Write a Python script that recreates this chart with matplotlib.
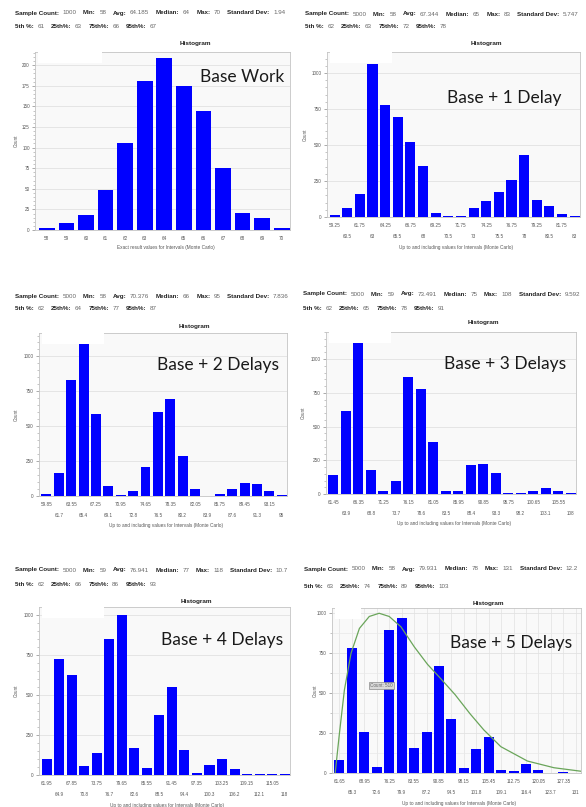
import matplotlib
matplotlib.use("Agg")
import matplotlib.pyplot as plt
from matplotlib.ticker import MultipleLocator, AutoMinorLocator
from matplotlib.patches import Rectangle
from matplotlib.transforms import Bbox

W, H, DPI = 586, 807, 100

# ---------------- data ----------------
base_bins = [58, 59, 60, 61, 62, 63, 64, 65, 66, 67, 68, 69, 70]
base_counts = [2, 9, 18, 48, 106, 181, 209, 175, 145, 75, 21, 14, 2]

d1_bins = [59.25, 60.5, 61.75, 63, 64.25, 65.5, 66.75, 68, 69.25, 70.5,
           71.75, 73, 74.25, 75.5, 76.75, 78, 79.25, 80.5, 81.75, 83]
d1_counts = [16, 62, 162, 1062, 780, 694, 518, 352, 28, 9,
             4, 65, 109, 171, 255, 428, 120, 74, 18, 9]

d2_bins = [59.85, 61.7, 63.55, 65.4, 67.25, 69.1, 70.95, 72.8, 74.65, 76.5,
           78.35, 80.2, 82.05, 83.9, 85.75, 87.6, 89.45, 91.3, 93.15, 95]
d2_counts = [14, 168, 832, 1094, 585, 72, 10, 34, 209, 604,
             695, 285, 50, 2, 12, 50, 91, 84, 36, 10]

d3_bins = [61.45, 63.9, 66.35, 68.8, 71.25, 73.7, 76.15, 78.6, 81.05, 83.5,
           85.95, 88.4, 90.85, 93.3, 95.75, 98.2, 100.65, 103.1, 105.55, 108]
d3_counts = [138, 618, 1128, 180, 20, 99, 865, 778, 389, 20,
             20, 217, 222, 155, 5, 5, 25, 44, 25, 10]

d4_bins = [61.95, 64.9, 67.85, 70.8, 73.75, 76.7, 79.65, 82.6, 85.55, 88.5,
           91.45, 94.4, 97.35, 100.3, 103.25, 106.2, 109.15, 112.1, 115.05, 118]
d4_counts = [101, 723, 625, 57, 136, 849, 1000, 168, 46, 377,
             549, 155, 15, 61, 99, 36, 6, 6, 6, 8]

d5_bins = [61.65, 65.3, 68.95, 72.6, 76.25, 79.9, 83.55, 87.2, 90.85, 94.5,
           98.15, 101.8, 105.45, 109.1, 112.75, 116.4, 120.05, 123.7, 127.35, 131]
d5_counts = [79, 782, 258, 40, 896, 969, 156, 256, 667, 341,
             33, 148, 225, 17, 10, 58, 19, 2, 8, 2]

# fitted curve on the last histogram
d5_fit_x = [60.4, 61.65, 63.1, 65.05, 67.5, 70.4, 73.3, 76.25, 79.7, 83.6,
            87.5, 91.4, 95.6, 100.0, 104.0, 109.0, 116.8, 124.6, 132.9]
d5_fit_y = [0, 250, 520, 750, 905, 980, 1000, 980, 915, 790,
            680, 590, 490, 370, 270, 165, 75, 33, 10]

titles = ["Base Work", "Base + 1 Delay", "Base + 2 Delays",
          "Base + 3 Delays", "Base + 4 Delays", "Base + 5 Delays"]

stat_names1 = ["Sample Count:", "Min:", "Avg:", "Median:", "Max:", "Standard Dev:"]
stat_names2 = ["5th %:", "25th%:", "75th%:", "95th%:"]
stats1 = [["1000", "58", "64.185", "64", "70", "1.94"],
          ["5000", "58", "67.344", "65", "83", "5.747"],
          ["5000", "58", "70.376", "66", "95", "7.836"],
          ["5000", "59", "73.491", "75", "108", "9.592"],
          ["5000", "59", "76.941", "77", "118", "10.7"],
          ["5000", "58", "79.931", "78", "131", "12.2"]]
stats2 = [["61", "63", "66", "67"],
          ["62", "63", "72", "78"],
          ["62", "64", "77", "87"],
          ["62", "65", "78", "91"],
          ["62", "66", "86", "93"],
          ["63", "74", "89", "103"]]

xlabel_exact = "Exact result values for Intervals (Monte Carlo)"
xlabel_upto = "Up to and including values for Intervals (Monte Carlo)"

all_bins = [base_bins, d1_bins, d2_bins, d3_bins, d4_bins, d5_bins]
all_counts = [base_counts, d1_counts, d2_counts, d3_counts, d4_counts, d5_counts]

# ---------------- layout (pixels) ----------------
rects = [(35, 52, 290, 230), (327, 52, 580, 217),
         (39, 333, 287, 496), (326, 332, 576, 494),
         (39, 607, 290, 775), (332, 608, 581, 773)]
ytops = [216, 1146, 1168, 1202, 1048, 1033]
ymajor = [25, 250, 250, 250, 250, 250]
head_pos = [(15, 13, 26, 293), (305, 14, 27, 586),
            (15, 297, 309, 293), (303, 294, 308, 586),
            (15, 570, 584, 297), (304, 569, 587, 586)]
title_gap = [9, 9, 7, 9, 5, 5]
big_pos = [(200, 77), (447, 98), (157, 365), (444, 364), (161, 640), (450, 643)]
ylab_x = [16, 305, 16, 303, 16, 315]
box_w = [64, 62, 62, 62, 62, 26]

fig = plt.figure(figsize=(W / DPI, H / DPI), dpi=DPI)
fig.patch.set_facecolor("white")
renderer = fig.canvas.get_renderer()

TICK_FONT = "Liberation Sans"


def fx(x):
    return x / W


def fy(y):
    return 1 - y / H


def header_line(x, y, names, vals, clip_right, gap_after=6.5):
    clip = Bbox.from_extents(0, 0, clip_right, H)
    cx = x
    for n, v in zip(names, vals):
        t = fig.text(fx(cx), fy(y), n, fontsize=4.5, fontweight="bold",
                     color="#222222", va="center", ha="left", family=TICK_FONT)
        t.set_clip_box(clip)
        t.set_clip_on(True)
        cx = t.get_window_extent(renderer).x1 + 3.5
        t = fig.text(fx(cx), fy(y), v, fontsize=4.5, color="#666666",
                     va="center", ha="left", family=TICK_FONT)
        t.set_clip_box(clip)
        t.set_clip_on(True)
        cx = t.get_window_extent(renderer).x1 + gap_after


for i in range(6):
    l, t, r, b = rects[i]
    ax = fig.add_axes([fx(l), fy(b), (r - l) / W, (b - t) / H])
    bins = all_bins[i]
    counts = all_counts[i]
    step = bins[1] - bins[0]
    ax.set_facecolor("#f9f9f9")
    ax.bar(bins, counts, width=0.8 * step, color="#0000ff", edgecolor="none", zorder=3)
    ax.set_xlim(bins[0] - 0.6 * step, bins[-1] + 0.42 * step)
    ax.set_ylim(0, ytops[i])
    for s in ax.spines.values():
        s.set_color("#c4c4c4")
        s.set_linewidth(0.6)
    ax.yaxis.set_major_locator(MultipleLocator(ymajor[i]))
    ax.yaxis.set_minor_locator(AutoMinorLocator(5))
    ax.tick_params(axis="y", which="major", length=2.5, width=0.5, color="#888888",
                   labelsize=3.3, labelcolor="#555555", pad=1.2)
    ax.tick_params(axis="y", which="minor", length=1.5, width=0.4, color="#999999")
    for lab in ax.get_yticklabels():
        lab.set_family(TICK_FONT)
    ax.grid(axis="y", which="major", color="#e2e2e2", linewidth=0.6, zorder=0)
    ax.set_axisbelow(True)

    labels = ["{:g}".format(v) for v in bins]
    if i == 0:
        ax.set_xticks(bins, labels=labels)
        ax.tick_params(axis="x", which="major", length=0, labelsize=3.3,
                       labelcolor="#555555", pad=4.5)
    else:
        ax.set_xticks(bins[0::2], labels=labels[0::2])
        ax.set_xticks(bins[1::2], labels=labels[1::2], minor=True)
        ax.tick_params(axis="x", which="major", length=0, labelsize=3.3,
                       labelcolor="#555555", pad=4.0)
        ax.tick_params(axis="x", which="minor", length=0, labelsize=3.3,
                       labelcolor="#555555", pad=12.5)
    for lab in ax.get_xticklabels(minor=False) + ax.get_xticklabels(minor=True):
        lab.set_family(TICK_FONT)

    # blank legend box in top-left corner
    ah = b - t
    aw = r - l
    ax.add_patch(Rectangle((3 / aw, 1 - 11 / ah), box_w[i] / aw, 11 / ah,
                           transform=ax.transAxes, facecolor="white",
                           edgecolor="none", zorder=4))

    if i == 5:
        ax.yaxis.set_minor_locator(MultipleLocator(125))
        ax.tick_params(axis="y", which="minor", length=1.5)
        ax.grid(axis="y", which="minor", color="#e8e8e8", linewidth=0.5, zorder=0)
        ax.grid(axis="x", which="both", color="#e2e2e2", linewidth=0.5, zorder=0)
        ax.plot(d5_fit_x, d5_fit_y, color="#6aa55a", linewidth=0.9, zorder=5)
        fig.text(fx(370), fy(685.5), "Count: 510", fontsize=3.3, color="#666666",
                 family=TICK_FONT, va="center", ha="left",
                 bbox=dict(boxstyle="square,pad=0.25", facecolor="#d9d9d9",
                           edgecolor="#8a8a8a", linewidth=0.5))

    # "Histogram" title
    fig.text(fx(l + 0.628 * (r - l)), fy(t - title_gap[i]), "Histogram",
             fontsize=4.6, fontweight="bold", color="#222222",
             ha="center", va="center", family=TICK_FONT)
    # Count label
    fig.text(fx(ylab_x[i]), fy((t + b) / 2), "Count", rotation=90, fontsize=3.3,
             color="#555555", ha="center", va="center", family=TICK_FONT)
    # x label
    xl = xlabel_exact if i == 0 else xlabel_upto
    off = 18 if i == 0 else 30
    fig.text(fx((l + r) / 2 + 3), fy(b + off), xl, fontsize=3.4, color="#555555",
             ha="center", va="center", family=TICK_FONT)
    # big label
    bx, by = big_pos[i]
    fig.text(fx(bx), fy(by), titles[i], fontsize=12.5, color="#1a1a1a",
             ha="left", va="center", family="Lato")

    # header stats
    hx, hy1, hy2, clip_r = head_pos[i]
    header_line(hx, hy1, stat_names1, stats1[i], clip_r)
    header_line(hx, hy2, stat_names2, stats2[i], clip_r)

fig.savefig("out.png", dpi=DPI, facecolor="white")
